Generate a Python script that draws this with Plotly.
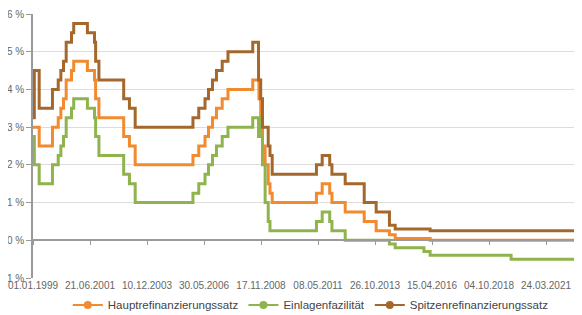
import plotly.graph_objects as go

# ECB key interest rates (step changes)
dates = ["1999-01-01", "1999-01-04", "1999-01-22", "1999-04-09", "1999-11-05",
         "2000-02-04", "2000-03-17", "2000-04-28", "2000-06-09", "2000-09-01",
         "2000-10-06", "2001-05-11", "2001-08-31", "2001-09-18", "2001-11-09",
         "2002-12-06", "2003-03-07", "2003-06-06", "2005-12-06", "2006-03-08",
         "2006-06-15", "2006-08-09", "2006-10-11", "2006-12-13", "2007-03-14",
         "2007-06-13", "2008-07-09", "2008-10-08", "2008-10-09", "2008-10-15",
         "2008-11-12", "2008-12-10", "2009-01-21", "2009-03-11", "2009-04-08",
         "2009-05-13", "2011-04-13", "2011-07-13", "2011-11-09", "2011-12-14",
         "2012-07-11", "2013-05-08", "2013-11-13", "2014-06-11", "2014-09-10",
         "2015-12-09", "2016-03-16", "2019-09-18", "2022-07-27", "2022-09-14",
         "2022-11-02"]
hauptrefi = [3.00, 3.00, 3.00, 2.50, 3.00,
             3.25, 3.50, 3.75, 4.25, 4.50,
             4.75, 4.50, 4.25, 3.75, 3.25,
             2.75, 2.50, 2.00, 2.25, 2.50,
             2.75, 3.00, 3.25, 3.50, 3.75,
             4.00, 4.25, 4.25, 4.25, 3.75,
             3.25, 2.50, 2.00, 1.50, 1.25,
             1.00, 1.25, 1.50, 1.25, 1.00,
             0.75, 0.50, 0.25, 0.15, 0.05,
             0.05, 0.00, 0.00, 0.50, 1.25,
             2.00]
einlage = [2.00, 2.75, 2.00, 1.50, 2.00,
           2.25, 2.50, 2.75, 3.25, 3.50,
           3.75, 3.50, 3.25, 2.75, 2.25,
           1.75, 1.50, 1.00, 1.25, 1.50,
           1.75, 2.00, 2.25, 2.50, 2.75,
           3.00, 3.25, 2.75, 3.25, 3.25,
           2.75, 2.00, 1.00, 0.50, 0.25,
           0.25, 0.50, 0.75, 0.50, 0.25,
           0.00, 0.00, 0.00, -0.10, -0.20,
           -0.30, -0.40, -0.50, 0.00, 0.75,
           1.50]
spitzen = [4.50, 3.25, 4.50, 3.50, 4.00,
           4.25, 4.50, 4.75, 5.25, 5.50,
           5.75, 5.50, 5.25, 4.75, 4.25,
           3.75, 3.50, 3.00, 3.25, 3.50,
           3.75, 4.00, 4.25, 4.50, 4.75,
           5.00, 5.25, 4.75, 4.25, 4.25,
           3.75, 3.00, 3.00, 2.50, 2.25,
           1.75, 2.00, 2.25, 2.00, 1.75,
           1.50, 1.00, 0.75, 0.40, 0.30,
           0.30, 0.25, 0.25, 0.75, 1.50,
           2.25]

series_names = ["Hauptrefinanzierungssatz", "Einlagenfazilität", "Spitzenrefinanzierungssatz"]
series_values = [hauptrefi, einlage, spitzen]
colors = ["#F28A30", "#8FB44D", "#A5682C"]

y_ticks = [-1, 0, 1, 2, 3, 4, 5, 6]
y_ticklabels = ["-1 %", "0 %", "1 %", "2 %", "3 %", "4 %", "5 %", "6 %"]
x_ticklabels = ["01.01.1999", "21.06.2001", "10.12.2003", "30.05.2006", "17.11.2008",
                "08.05.2011", "26.10.2013", "15.04.2016", "04.10.2018", "24.03.2021"]
x_tickvals = ["-".join(reversed(t.split("."))) for t in x_ticklabels]

x_range = ["1999-01-01", "2022-10-14"]

fig = go.Figure()
for name, vals, col in zip(series_names, series_values, colors):
    fig.add_trace(go.Scatter(
        x=dates, y=vals, mode="lines", line=dict(color=col, width=3, shape="hv"),
        name=name, legendgroup=name, showlegend=False, hoverinfo="skip"))
for name, col in zip(series_names, colors):
    fig.add_trace(go.Scatter(
        x=[None], y=[None], mode="lines+markers", name=name, legendgroup=name,
        line=dict(color=col, width=2), marker=dict(color=col, size=8)))

# invisible helper trace to activate the zero-crossing axis
fig.add_trace(go.Scatter(x=[x_range[0]], y=[None], xaxis="x2", showlegend=False,
                         hoverinfo="skip", mode="lines"))

font_family = "Liberation Sans, Arial, sans-serif"
fig.update_layout(
    width=574, height=307,
    margin=dict(l=25, r=0, t=6, b=37, autoexpand=False),
    paper_bgcolor="white", plot_bgcolor="white",
    font=dict(family=font_family, size=10, color="#666"),
    showlegend=True,
    legend=dict(orientation="h", x=0.506, xanchor="center", y=-0.102, yanchor="middle",
                font=dict(size=11.5, color="#444"), itemwidth=30, tracegroupgap=0),
    xaxis=dict(type="date", range=x_range, tickvals=x_tickvals, ticktext=x_ticklabels,
               showgrid=False, zeroline=False, showline=False, ticks="",
               automargin=False, ticklabeloverflow="allow",
               tickfont=dict(size=10, color="#666")),
    xaxis2=dict(type="date", range=x_range, overlaying="x", anchor="free",
                position=1/7, tickvals=x_tickvals, showticklabels=False,
                showline=True, linecolor="#9a9a9a", linewidth=1.5, automargin=False,
                ticks="outside", ticklen=4, tickcolor="#9a9a9a", showgrid=False,
                zeroline=False),
    yaxis=dict(range=[-1, 6], tickvals=y_ticks, ticktext=y_ticklabels,
               showgrid=True, gridcolor="#dddddd", gridwidth=1, automargin=False,
               ticklabeloverflow="allow",
               zeroline=False, showline=True, linecolor="#999", linewidth=1.5,
               ticks="outside", ticklen=5, tickcolor="#999",
               tickfont=dict(size=10, color="#666")),
)

fig.write_html("out.html")
